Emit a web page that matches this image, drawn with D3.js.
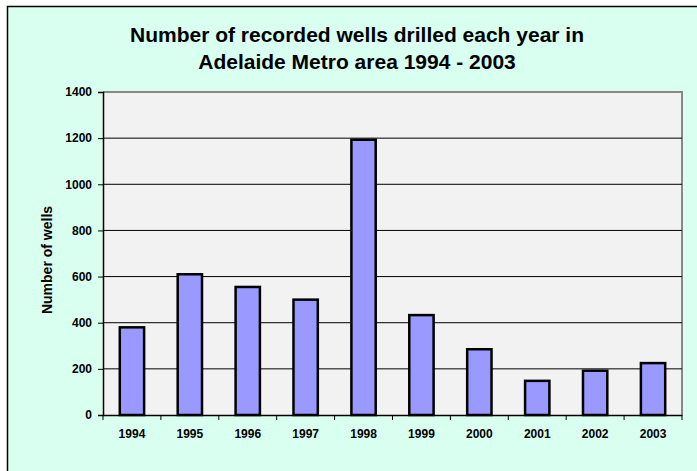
<!DOCTYPE html>
<html><head><meta charset="utf-8">
<script src="https://cdn.jsdelivr.net/npm/d3@7"></script>
<style>body{margin:0;background:#fff;} text{font-family:"Liberation Sans",Arial,sans-serif;font-weight:bold;fill:#000;}</style>
</head><body>
<svg id="chart" width="697" height="471"></svg>
<script>
const years = ["1994","1995","1996","1997","1998","1999","2000","2001","2002","2003"];
const wells = [380, 610, 555, 500, 1193, 433, 285, 148, 192, 225];
const yTicks = [0, 200, 400, 600, 800, 1000, 1200, 1400];
const titleLines = ["Number of recorded wells drilled each year in", "Adelaide Metro area 1994 - 2003"];
const yLabel = "Number of wells";

const svg = d3.select("#chart");
svg.append("rect").attr("x", 7.5).attr("y", 6.5).attr("width", 700).attr("height", 480)
  .attr("fill", "#d9fff0").attr("stroke", "#000").attr("stroke-width", 1.5);

const m = {left: 103, right: 682, top: 92, bottom: 415};
const x = d3.scaleBand().domain(years).range([m.left, m.right]).paddingInner(0.58).paddingOuter(0.29);
const y = d3.scaleLinear().domain([0, 1400]).range([m.bottom, m.top]);

svg.append("rect").attr("x", m.left).attr("y", m.top).attr("width", m.right - m.left).attr("height", m.bottom - m.top)
  .attr("fill", "#f2f2f2");
svg.append("path").attr("d", `M${m.left},${m.top}H${m.right}V${m.bottom}`).attr("fill", "none")
  .attr("stroke", "#888").attr("stroke-width", 2);

svg.append("g").selectAll("line").data(yTicks.filter(d => d > 0 && d < 1400)).join("line")
  .attr("x1", m.left).attr("x2", m.right).attr("y1", d => y(d)).attr("y2", d => y(d))
  .attr("stroke", "#000").attr("stroke-width", 1);

svg.append("g").selectAll("rect").data(years).join("rect")
  .attr("x", d => x(d)).attr("width", x.bandwidth())
  .attr("y", (d, i) => y(wells[i])).attr("height", (d, i) => y(0) - y(wells[i]))
  .attr("fill", "#9999ff").attr("stroke", "#000").attr("stroke-width", 2.5);

const yAxis = svg.append("g").attr("transform", `translate(${m.left},0)`)
  .call(d3.axisLeft(y).tickValues(yTicks).tickFormat(d3.format("d")).tickSize(5).tickPadding(6));
yAxis.select(".domain").attr("stroke", "#000").attr("stroke-width", 1.5);
yAxis.selectAll("text").style("font-size", "12px").style("font-weight", "bold");

const xAxis = svg.append("g").attr("transform", `translate(0,${m.bottom})`)
  .call(d3.axisBottom(x).tickSize(0).tickPadding(14));
xAxis.select(".domain").attr("stroke", "#000").attr("stroke-width", 1.5);
xAxis.selectAll("text").style("font-size", "12px").style("font-weight", "bold");
const step = x.step();
svg.append("g").selectAll("line").data(d3.range(years.length + 1)).join("line")
  .attr("x1", i => m.left + i * step).attr("x2", i => m.left + i * step)
  .attr("y1", m.bottom).attr("y2", m.bottom + 5).attr("stroke", "#000");

svg.append("g").selectAll("text").data(titleLines).join("text")
  .attr("x", 357).attr("y", (d, i) => 42 + i * 27).attr("text-anchor", "middle")
  .style("font-size", "21px").text(d => d);

svg.append("text").attr("transform", "translate(52,260) rotate(-90)").attr("text-anchor", "middle")
  .style("font-size", "14px").text(yLabel);
</script>
</body></html>
